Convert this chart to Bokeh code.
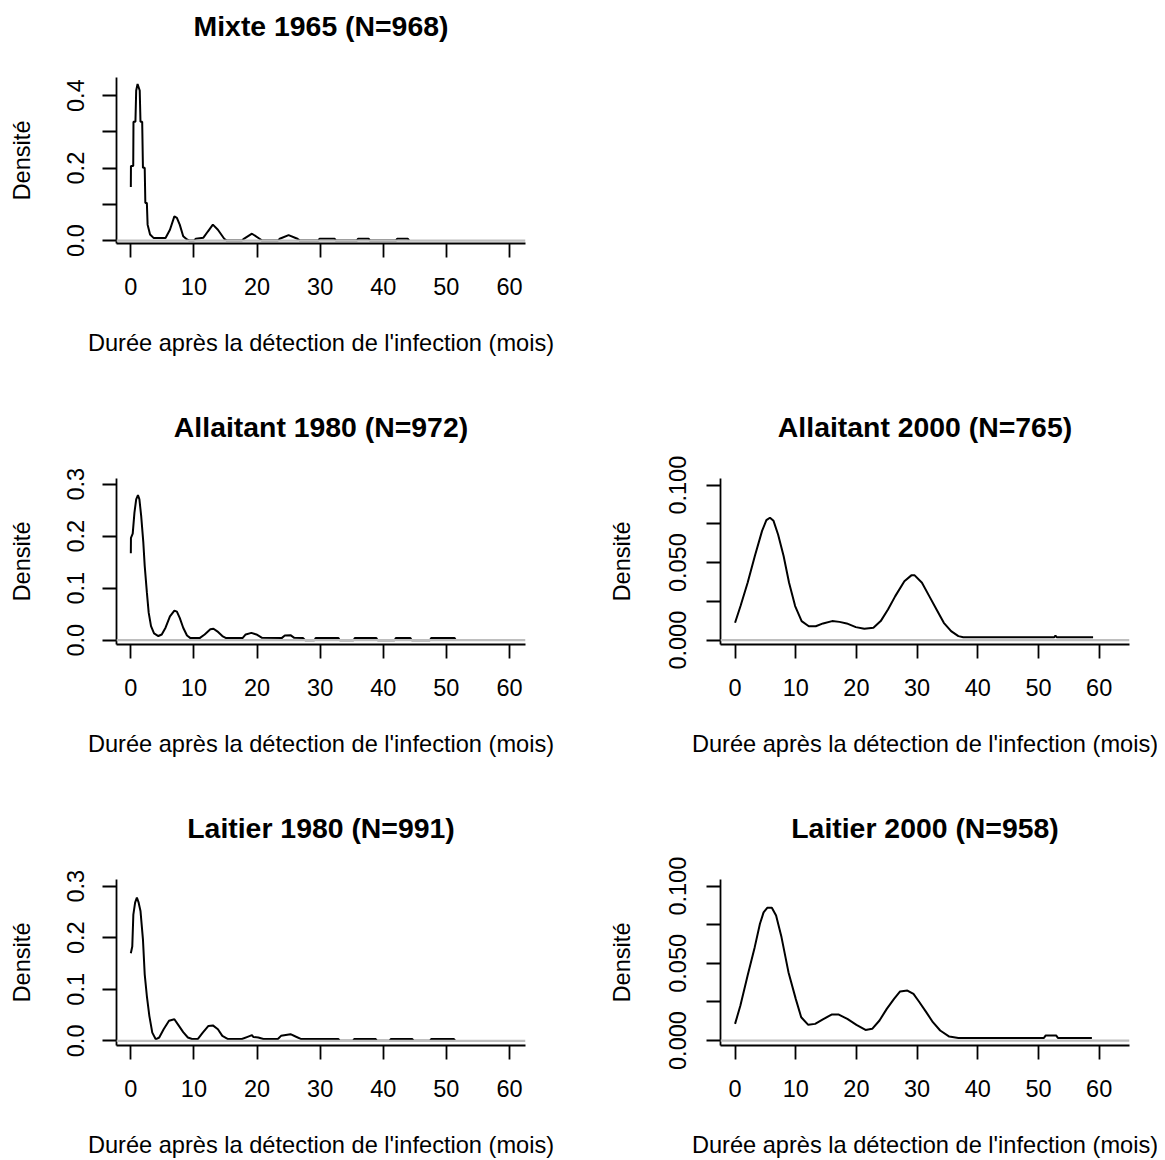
from bokeh.plotting import figure
from bokeh.layouts import gridplot
from bokeh.models import FixedTicker, Span
from bokeh.embed import file_html
from bokeh.resources import INLINE

FONT = "Liberation Sans"
XLABEL = "Durée après la détection de l'infection (mois)"
YLABEL = "Densité"

# ---------------- data ----------------
x_ticks = [0, 10, 20, 30, 40, 50, 60]

mixte1965_title = "Mixte 1965 (N=968)"
mixte1965_x = [0.0, 0.02, 0.38, 0.42, 0.73, 0.85, 1.07, 1.41, 1.53, 1.8, 1.92, 2.2, 2.3, 2.54, 2.66,
               3.05, 3.6, 5.5, 6.2, 6.9, 7.3, 7.75, 8.3, 8.9, 9.3, 10.0, 10.3, 11.5, 12.2, 13.0,
               13.8, 14.8, 15.2, 17.6, 17.9, 19.2, 20.4, 20.8, 23.3, 23.6, 25.0, 26.4, 26.8,
               29.7, 29.9, 32.3, 32.5, 35.8, 36.0, 37.7, 37.9, 42.0, 42.2, 43.9, 44.1]
mixte1965_y = [0.148, 0.206, 0.206, 0.328, 0.328, 0.414, 0.432, 0.414, 0.328, 0.328, 0.201, 0.201, 0.104, 0.104, 0.044,
               0.017, 0.0074, 0.0074, 0.03, 0.067, 0.063, 0.044, 0.012, 0.003, 0.0, 0.0, 0.005, 0.008, 0.025, 0.044,
               0.03, 0.005, 0.0, 0.0, 0.005, 0.019, 0.005, 0.0, 0.0, 0.005, 0.015, 0.005, 0.0,
               0.0, 0.005, 0.005, 0.0, 0.0, 0.005, 0.005, 0.0, 0.0, 0.005, 0.005, 0.0]
mixte1965_yticks = [0.0, 0.1, 0.2, 0.3, 0.4]
mixte1965_ylabels = ["0.0", "", "0.2", "", "0.4"]

allaitant1980_title = "Allaitant 1980 (N=972)"
allaitant1980_x = [0.0, 0.02, 0.3, 0.57, 0.85, 1.13, 1.36, 1.64, 1.98, 2.2, 2.55, 2.83, 3.2, 3.68, 4.36, 4.9,
                   5.5, 6.2, 6.9, 7.3, 7.75, 8.3, 8.9, 9.45, 10.9, 11.7, 12.6, 13.1, 13.7, 14.5, 15.1,
                   17.7, 18.2, 19.1, 19.9, 20.8, 23.9, 24.4, 25.3, 25.9, 27.3, 27.6, 29.1, 29.3, 32.9,
                   33.1, 35.3, 35.5, 38.9, 39.1, 41.8, 42.0, 44.3, 44.5, 47.4, 47.6, 51.3, 51.5]
allaitant1980_y = [0.167, 0.197, 0.205, 0.245, 0.271, 0.279, 0.271, 0.239, 0.188, 0.143, 0.091, 0.053, 0.027, 0.013, 0.008, 0.011,
                   0.024, 0.046, 0.057, 0.055, 0.043, 0.024, 0.009, 0.004, 0.004, 0.011, 0.021, 0.022, 0.017, 0.008, 0.004,
                   0.004, 0.011, 0.014, 0.011, 0.0045, 0.004, 0.009, 0.0096, 0.0045, 0.004, 0.0, 0.0, 0.004, 0.004,
                   0.0, 0.0, 0.004, 0.004, 0.0, 0.0, 0.004, 0.004, 0.0, 0.0, 0.004, 0.004, 0.0]
allaitant1980_yticks = [0.0, 0.1, 0.2, 0.3]
allaitant1980_ylabels = ["0.0", "0.1", "0.2", "0.3"]

laitier1980_title = "Laitier 1980 (N=991)"
laitier1980_x = [0.0, 0.23, 0.4, 0.68, 0.96, 1.24, 1.53, 1.92, 2.2, 2.54, 2.94, 3.4, 3.95, 4.5, 5.2, 6.05,
                 6.9, 7.46, 8.3, 9.04, 9.7, 10.6, 11.4, 12.3, 13.0, 13.8, 14.5, 15.4, 17.6, 18.5, 19.2,
                 19.4, 20.2, 21.0, 23.3, 23.8, 25.3, 26.1, 27.0, 32.9, 33.1, 35.2, 35.4, 38.8, 39.0,
                 41.0, 41.2, 44.6, 44.8, 47.4, 47.6, 51.2, 51.4]
laitier1980_y = [0.17, 0.183, 0.245, 0.268, 0.278, 0.268, 0.252, 0.197, 0.129, 0.087, 0.048, 0.016, 0.003, 0.0065, 0.0226, 0.039,
                 0.042, 0.032, 0.017, 0.0065, 0.0035, 0.0035, 0.016, 0.029, 0.030, 0.0226, 0.0097, 0.0035, 0.0035, 0.0077, 0.011,
                 0.0077, 0.0065, 0.0035, 0.0035, 0.0097, 0.0129, 0.0084, 0.0035, 0.0035, 0.0, 0.0, 0.0035, 0.0035, 0.0,
                 0.0, 0.0035, 0.0035, 0.0, 0.0, 0.0035, 0.0035, 0.0]
laitier1980_yticks = [0.0, 0.1, 0.2, 0.3]
laitier1980_ylabels = ["0.0", "0.1", "0.2", "0.3"]

allaitant2000_title = "Allaitant 2000 (N=765)"
allaitant2000_x = [0.0, 0.9, 2.07, 3.26, 4.45, 5.16, 5.75, 6.34, 7.1, 8.0, 8.9, 9.9, 10.97, 12.15, 13.3, 14.5,
                   16.0, 17.2, 18.4, 19.9, 21.3, 22.8, 24.0, 25.2, 26.4, 27.9, 29.05, 29.6, 30.8, 32.0,
                   33.2, 34.4, 35.6, 36.8, 37.6, 52.6, 52.8, 53.0, 59.0]
allaitant2000_y = [0.0112, 0.022, 0.037, 0.0543, 0.0705, 0.0774, 0.079, 0.077, 0.068, 0.0543, 0.037, 0.022, 0.0123, 0.009, 0.009, 0.0108,
                   0.0123, 0.0118, 0.0108, 0.0084, 0.0073, 0.008, 0.0123, 0.0198, 0.0284, 0.038, 0.0418, 0.0418, 0.037, 0.0284,
                   0.0198, 0.0112, 0.0058, 0.0026, 0.0019, 0.0019, 0.003, 0.0019, 0.0019]
allaitant2000_yticks = [0.0, 0.025, 0.05, 0.075, 0.1]
allaitant2000_ylabels = ["0.000", "", "0.050", "", "0.100"]

laitier2000_title = "Laitier 2000 (N=958)"
laitier2000_x = [0.0, 0.88, 2.06, 3.24, 4.1, 4.7, 5.3, 6.06, 6.76, 7.65, 8.8, 10.0, 10.9, 12.06, 13.2, 14.4,
                 15.9, 17.1, 18.5, 20.0, 21.5, 22.6, 23.8, 25.0, 26.2, 27.2, 28.4, 29.4, 30.3, 31.5,
                 32.6, 33.8, 35.3, 36.8, 50.9, 51.2, 52.9, 53.2, 58.8]
laitier2000_y = [0.0108, 0.0227, 0.042, 0.0605, 0.0756, 0.083, 0.086, 0.086, 0.081, 0.067, 0.0443, 0.027, 0.0151, 0.0102, 0.0108, 0.0136,
                 0.0168, 0.0168, 0.014, 0.0102, 0.0069, 0.0076, 0.013, 0.0205, 0.027, 0.0318, 0.0324, 0.0302, 0.0253, 0.0184,
                 0.0119, 0.0065, 0.0026, 0.0017, 0.0017, 0.0033, 0.0033, 0.0017, 0.0017]
laitier2000_yticks = [0.0, 0.025, 0.05, 0.075, 0.1]
laitier2000_ylabels = ["0.000", "", "0.050", "", "0.100"]

# ---------------- layout helpers ----------------
FRAME_W, FRAME_H = 409, 166


def make_panel(title, xs, ys, yticks, ylabels, x_range, y_range, col, rowidx):
    if col == 0:
        bl, br = 116, 79
    else:
        bl, br = 116, 28
    bt = 77 if rowidx == 0 else 74
    bb = 161 if rowidx < 2 else 114
    p = figure(frame_width=FRAME_W, frame_height=FRAME_H, x_range=x_range, y_range=y_range,
               output_backend="svg", toolbar_location=None, title=title + "\n",
               min_border_left=bl, min_border_right=br, min_border_top=bt, min_border_bottom=bb)
    p.outline_line_color = None
    p.background_fill_color = "white"
    p.border_fill_color = "white"
    p.xgrid.visible = False
    p.ygrid.visible = False

    p.title.text_font = FONT
    p.title.text_font_size = "28.4px"
    p.title.text_font_style = "bold"
    p.title.text_color = "black"
    p.title.align = "center"
    p.title.standoff = 8

    p.line(xs, ys, line_color="black", line_width=2)
    p.add_layout(Span(location=0, dimension="width", line_color="#bebebe", line_width=2.2))

    for ax in (p.xaxis[0], p.yaxis[0]):
        ax.axis_line_color = "black"
        ax.axis_line_width = 1.8
        ax.major_tick_line_color = "black"
        ax.major_tick_line_width = 1.8
        ax.major_tick_in = 0
        ax.major_tick_out = 14
        ax.minor_tick_line_color = None
        ax.major_label_text_font = FONT
        ax.major_label_text_font_size = "23.5px"
        ax.major_label_text_color = "black"
        ax.axis_label_text_font = FONT
        ax.axis_label_text_font_size = "23.6px"
        ax.axis_label_text_font_style = "normal"
        ax.axis_label_text_color = "black"

    p.xaxis.ticker = FixedTicker(ticks=x_ticks)
    p.xaxis.major_label_overrides = {t: str(t) for t in x_ticks}
    p.xaxis.major_label_standoff = 20
    p.xaxis.axis_label = XLABEL
    p.xaxis.axis_label_standoff = 32

    p.yaxis.ticker = FixedTicker(ticks=yticks)
    p.yaxis.major_label_overrides = {t: lab for t, lab in zip(yticks, ylabels)}
    p.yaxis.major_label_orientation = "vertical"
    p.yaxis.major_label_standoff = 18 if col == 0 else 20
    p.yaxis.axis_label = YLABEL
    p.yaxis.axis_label_standoff = 30 if col == 0 else 32
    return p


p1 = make_panel(mixte1965_title, mixte1965_x, mixte1965_y, mixte1965_yticks, mixte1965_ylabels,
                (-2.27, 62.54), (-0.008, 0.450), 0, 0)
p2 = make_panel(allaitant1980_title, allaitant1980_x, allaitant1980_y, allaitant1980_yticks, allaitant1980_ylabels,
                (-2.27, 62.54), (-0.0083, 0.311), 0, 1)
p4 = make_panel(allaitant2000_title, allaitant2000_x, allaitant2000_y, allaitant2000_yticks, allaitant2000_ylabels,
                (-2.4, 65.0), (-0.0028, 0.1043), 1, 1)
p3 = make_panel(laitier1980_title, laitier1980_x, laitier1980_y, laitier1980_yticks, laitier1980_ylabels,
                (-2.27, 62.54), (-0.009, 0.313), 0, 2)
p6 = make_panel(laitier2000_title, laitier2000_x, laitier2000_y, laitier2000_yticks, laitier2000_ylabels,
                (-2.4, 65.0), (-0.0032, 0.1043), 1, 2)

grid = gridplot([[p1, None], [p2, p4], [p3, p6]], toolbar_location=None)

open("out.html", "w").write(file_html(grid, INLINE))
